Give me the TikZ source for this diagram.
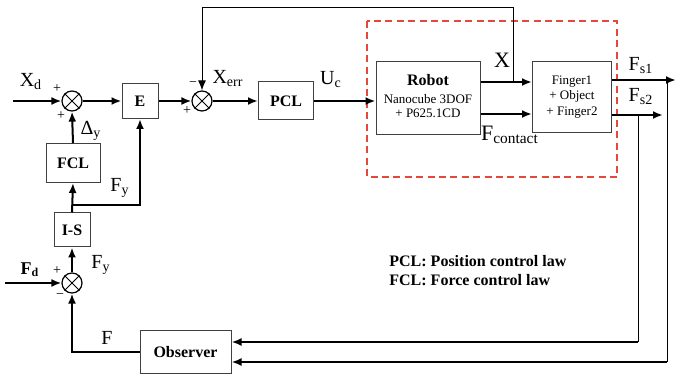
\documentclass[tikz,border=0pt]{standalone}
\usepackage{fontspec}
\setmainfont{Liberation Serif}
\usetikzlibrary{arrows.meta,positioning,calc}
\definecolor{dashred}{RGB}{228,72,58}
\begin{document}
\begin{tikzpicture}[x=0.5pt,y=-0.5pt,>={Latex[length=5pt,width=4pt]},
  box/.style={draw=black!75,line width=0.5pt,align=center,inner sep=0pt},
  sum/.style={draw,circle,line width=0.6pt,minimum size=10pt,inner sep=0pt},
  sig/.style={line width=1pt},
  fb/.style={line width=0.5pt},
  lbl/.style={font=\fontsize{10}{12}\selectfont,inner sep=0pt},
  big/.style={font=\fontsize{11}{13}\selectfont,inner sep=0pt},
  sgn/.style={font=\fontsize{7}{8}\selectfont,inner sep=0pt},
  bld/.style={font=\bfseries\fontsize{8}{9.5}\selectfont}]
\useasboundingbox (0,0) rectangle (676,374);
% blocks
\node[sum] (s1) at (72,101) {};
\node[box,bld,minimum width=18pt,minimum height=17.5pt] (ebox) at (140,101) {E};
\node[sum] (s2) at (202,101) {};
\node[box,bld,minimum width=27.5pt,minimum height=19pt] (pcl) at (286,101) {PCL};
\node[box,minimum width=52pt,minimum height=36.5pt] (robot) at (428,98) {};
\node[bld,inner sep=0pt] (robtitle) at (428,80) {Robot};
\node[font=\fontsize{6.5}{7.4}\selectfont,align=center,inner sep=0pt] (robtext) at (428,106) {Nanocube 3DOF\\+ P625.1CD};
\node[box,minimum width=39.5pt,minimum height=35.5pt,font=\fontsize{6.5}{7.6}\selectfont] (finger) at (572,97) {Finger1\\+ Object\\+ Finger2};
\draw[dashred,line width=0.8pt,dash pattern=on 3.5pt off 2.2pt] (367,21) rectangle (617,177);
\node[box,bld,minimum width=27pt,minimum height=19.5pt] (fcl) at (73,163) {FCL};
\node[box,bld,minimum width=18pt,minimum height=17pt] (is) at (72,230) {I-S};
\node[sum] (s3) at (72,283) {};
\node[box,bld,minimum width=45.5pt,minimum height=21.5pt] (obs) at (185.5,352) {Observer};
\foreach \s in {s1,s2,s3}{
  \draw[line width=0.5pt] (\s.north west) -- (\s.south east);
  \draw[line width=0.5pt] (\s.north east) -- (\s.south west);
}
% coordinates
\coordinate (xd) at (13,101);
\coordinate (fd) at (5,283);
\coordinate (xtap) at (513,82);
\coordinate (xtop) at (513,8);
\coordinate (fs1end) at (676,80);
\coordinate (fs2end) at (663,115);
\coordinate (tap2) at (638,115);
\coordinate (tap1) at (667,80);
\coordinate (ret2) at (638,342);
\coordinate (ret1) at (667,362);
\coordinate (ftap) at (72,205);
% connectors
\draw[sig,->] (xd) -- (s1.west);
\draw[sig,->] (s1.east) -- (ebox.west);
\draw[sig,->] (ebox.east) -- (s2.west);
\draw[sig,->] (s2.east) -- (pcl.west);
\draw[sig,->] (pcl.east) -- (robot.west |- pcl.east);
\draw[sig,->] (robot.east |- xtap) -- (finger.west |- xtap);
\draw[sig,->] ($(robot.east)+(0,16)$) -- ($(finger.west)+(0,17)$);
\draw[fb,->] (xtap) -- (xtop) -| (s2.north);
\draw[sig,->] (finger.east |- fs1end) -- (fs1end);
\draw[sig,->] (finger.east |- fs2end) -- (fs2end);
\draw[fb] (tap2) -- (ret2);
\draw[fb] (tap1) -- (ret1);
\draw[sig,->] (ret2) -- (obs.east |- ret2);
\draw[sig,->] (ret1) -- (obs.east |- ret1);
\draw[sig,->] (obs.west) -| (s3.south);
\draw[sig,->] (fd) -- (s3.west);
\draw[sig,->] (s3.north) -- (is.south);
\draw[sig,->] (is.north) -- (fcl.south);
\draw[sig,->] (ftap) -| (ebox.south);
\draw[sig,->] (fcl.north) -- (s1.south);
% labels
\node[lbl] (lxd) at (31,82) {X\textsubscript{d}};
\node[sgn] at (57,89) {+};
\node[sgn] at (61,116) {+};
\node[lbl] (ldy) at (91,131) {Δ\textsubscript{y}};
\node[lbl] (lfy1) at (120,188) {F\textsubscript{y}};
\node[sgn] at (193,84) {\textminus};
\node[sgn] at (187,111) {+};
\node[lbl] (lxerr) at (228,79) {X\textsubscript{err}};
\node[lbl] (luc) at (331,80) {U\textsubscript{c}};
\node[big] (lx) at (502,60) {X};
\node[big] (lfc) at (510,135) {F\textsubscript{contact}};
\node[lbl] (lfs1) at (641,66) {F\textsubscript{s1}};
\node[lbl] (lfs2) at (641,97) {F\textsubscript{s2}};
\node[lbl,font=\bfseries\fontsize{9}{10}\selectfont] (lfd) at (30,270) {F\textsubscript{d}};
\node[sgn] at (57,271) {+};
\node[sgn] at (60,296) {\textminus};
\node[lbl] (lfy2) at (101,265) {F\textsubscript{y}};
\node[lbl] (lf) at (107,338) {F};
\node[bld,align=left,anchor=west,inner sep=0pt] (legend) at (389,271) {PCL: Position control law\\FCL: Force control law};
\end{tikzpicture}
\end{document}
